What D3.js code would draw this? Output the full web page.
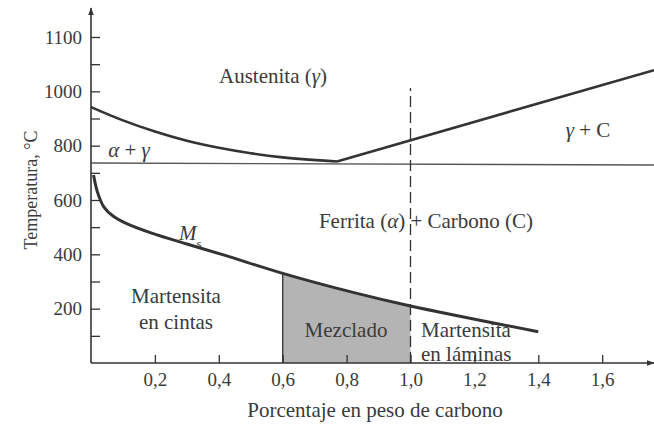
<!DOCTYPE html>
<html>
<head>
<meta charset="utf-8">
<script src="https://cdn.jsdelivr.net/npm/d3@7"></script>
<style>
  body { margin: 0; background: #fff; }
  text { font-family: "Liberation Serif", "DejaVu Serif", serif; fill: #3a3a3a; }
</style>
</head>
<body>
<div id="chart"></div>
<script>
// carbon % (x) and temperature in degC (y)
var a3C = [0, 0.1, 0.2, 0.3, 0.4, 0.5, 0.6, 0.77];
var a3T = [942, 893, 852, 818, 792, 772, 757, 742];

var acmC = [0.77, 1.762];
var acmT = [742, 1078];

var euC = [0, 1.762];
var euT = [736, 729];

var msC = [0.008, 0.02, 0.04, 0.07, 0.11, 0.19, 0.3, 0.42, 0.6, 0.82, 1.0, 1.4];
var msT = [692, 630, 575, 540, 514, 478, 438, 396, 330, 260, 210, 115];

var mixC = [0.6, 1.0];       // shaded "Mezclado" band
var dashC = 1.0, dashTop = 1012;

var xTicks = [0.2, 0.4, 0.6, 0.8, 1.0, 1.2, 1.4, 1.6];
var xLabels = ["0,2", "0,4", "0,6", "0,8", "1,0", "1,2", "1,4", "1,6"];
var yTicks = [200, 400, 600, 800, 1000, 1200];
var yLabels = ["200", "400", "600", "800", "1000", "1100"];
var yMinor = [100, 300, 500, 700, 900, 1100];

var width = 654, height = 427;
var ink = "#333";

var svg = d3.select("#chart").append("svg")
  .attr("width", width)
  .attr("height", height);

var x = d3.scaleLinear().domain([0, 1.8]).range([91, 91 + 1.8 * 319.5]);
var y = d3.scaleLinear().domain([0, 1200]).range([363, 37]);

var line = d3.line().x(function(d) { return x(d[0]); }).y(function(d) { return y(d[1]); });
function pairs(cs, ts) { return cs.map(function(c, i) { return [c, ts[i]]; }); }

// arrow head
svg.append("defs").append("marker")
  .attr("id", "arrow")
  .attr("viewBox", "0 0 10 10")
  .attr("refX", 9).attr("refY", 5)
  .attr("markerWidth", 5).attr("markerHeight", 5)
  .attr("orient", "auto")
  .append("path").attr("d", "M0,1.5L10,5L0,8.5Z").attr("fill", ink);

// Ms curve path (hidden copy used to find the top of the shaded band)
var msPts = pairs(msC, msT);
var msLine = line.curve(d3.curveCatmullRom.alpha(0.5));
var msD = msLine(msPts);
var msGuide = svg.append("path").attr("d", msD).attr("fill", "none").attr("stroke", "none");
var node = msGuide.node(), len = node.getTotalLength();
function msYAt(px) {
  var lo = 0, hi = len;
  for (var k = 0; k < 40; k++) {
    var mid = (lo + hi) / 2;
    if (node.getPointAtLength(mid).x < px) lo = mid; else hi = mid;
  }
  return node.getPointAtLength(lo).y;
}

// shaded mixed zone under Ms
var mixTop = d3.range(mixC[0], mixC[1] + 0.0001, 0.01).map(function(c) { return [x(c), msYAt(x(c))]; });
var mixArea = [[x(mixC[0]), y(0)]].concat(mixTop).concat([[x(mixC[1]), y(0)]]);
svg.append("path")
  .attr("d", "M" + mixArea.join("L") + "Z")
  .attr("fill", "#b4b4b4");
svg.append("line")
  .attr("x1", x(mixC[0])).attr("x2", x(mixC[0]))
  .attr("y1", y(0)).attr("y2", msYAt(x(mixC[0])))
  .attr("stroke", ink).attr("stroke-width", 1.3);

// axes
var yMinorAxis = d3.axisLeft(y).tickValues(yMinor).tickSize(-9).tickFormat("");
var yAxis = d3.axisLeft(y).tickValues(yTicks).tickSize(-9).tickPadding(9)
  .tickFormat(function(d, i) { return yLabels[i]; });
var xAxis = d3.axisBottom(x).tickValues(xTicks).tickSize(-8).tickPadding(10)
  .tickFormat(function(d, i) { return xLabels[i]; });

var gy = svg.append("g").attr("transform", "translate(" + x(0) + ",0)");
gy.call(yMinorAxis);
gy.append("g").call(yAxis);
svg.append("g").attr("transform", "translate(0," + y(0) + ")").call(xAxis);
svg.selectAll(".domain").remove();
svg.selectAll(".tick line").attr("stroke", ink).attr("stroke-width", 1.3);
svg.selectAll(".tick text").style("font-size", "19px").attr("fill", "#3a3a3a")
  .style("font-family", "'Liberation Serif', serif");

svg.append("line")
  .attr("x1", x(0)).attr("x2", x(0)).attr("y1", y(0)).attr("y2", 8)
  .attr("stroke", ink).attr("stroke-width", 1.6).attr("marker-end", "url(#arrow)");
svg.append("line")
  .attr("x1", x(0)).attr("x2", 654).attr("y1", y(0)).attr("y2", y(0))
  .attr("stroke", ink).attr("stroke-width", 1.6).attr("marker-end", "url(#arrow)");

// phase lines
svg.append("path")
  .attr("d", d3.line().x(function(d) { return x(d[0]); }).y(function(d) { return y(d[1]); })(pairs(euC, euT)))
  .attr("fill", "none").attr("stroke", "#555").attr("stroke-width", 1.4);

svg.append("line")
  .attr("x1", x(dashC)).attr("x2", x(dashC)).attr("y1", y(0)).attr("y2", y(dashTop))
  .attr("stroke", ink).attr("stroke-width", 1.3).attr("stroke-dasharray", "11,5");

svg.append("path")
  .attr("d", d3.line().x(function(d) { return x(d[0]); }).y(function(d) { return y(d[1]); })
    .curve(d3.curveMonotoneX)(pairs(a3C, a3T)))
  .attr("fill", "none").attr("stroke", ink).attr("stroke-width", 2.6);
svg.append("path")
  .attr("d", d3.line().x(function(d) { return x(d[0]); }).y(function(d) { return y(d[1]); })(pairs(acmC, acmT)))
  .attr("fill", "none").attr("stroke", ink).attr("stroke-width", 2.6);
svg.append("path")
  .attr("d", msD)
  .attr("fill", "none").attr("stroke", ink).attr("stroke-width", 3);

// region labels
function label(tx, ty, parts, anchor) {
  var t = svg.append("text").attr("x", tx).attr("y", ty)
    .attr("text-anchor", anchor || "start").style("font-size", "21px");
  parts.forEach(function(p) {
    var s = t.append("tspan").text(p[0]);
    if (p[1] === "i") s.style("font-style", "italic");
    if (p[1] === "sub") s.attr("baseline-shift", "sub").style("font-size", "13px");
  });
  return t;
}
label(273, 83, [["Austenita ("], ["\u03b3", "i"], [")"]], "middle");
label(588, 137, [["\u03b3", "i"], [" + C"]], "middle");
label(129, 157, [["\u03b1", "i"], [" + "], ["\u03b3", "i"]], "middle");
label(179, 240, [["M", "i"], ["s", "sub"]]);
label(426, 228, [["Ferrita ("], ["\u03b1", "i"], [") + Carbono (C)"]], "middle");
label(176, 303, [["Martensita"]], "middle");
label(176, 329, [["en cintas"]], "middle");
label(346, 337, [["Mezclado"]], "middle");
label(421, 337, [["Martensita"]]);
label(421, 361, [["en l\u00e1minas"]]);

// axis titles
svg.append("text").attr("x", 375).attr("y", 417).attr("text-anchor", "middle")
  .style("font-size", "21px").text("Porcentaje en peso de carbono");
svg.append("text").attr("transform", "translate(37,190)rotate(-90)")
  .attr("text-anchor", "middle").style("font-size", "18px").text("Temperatura, \u00b0C");
</script>
</body>
</html>
